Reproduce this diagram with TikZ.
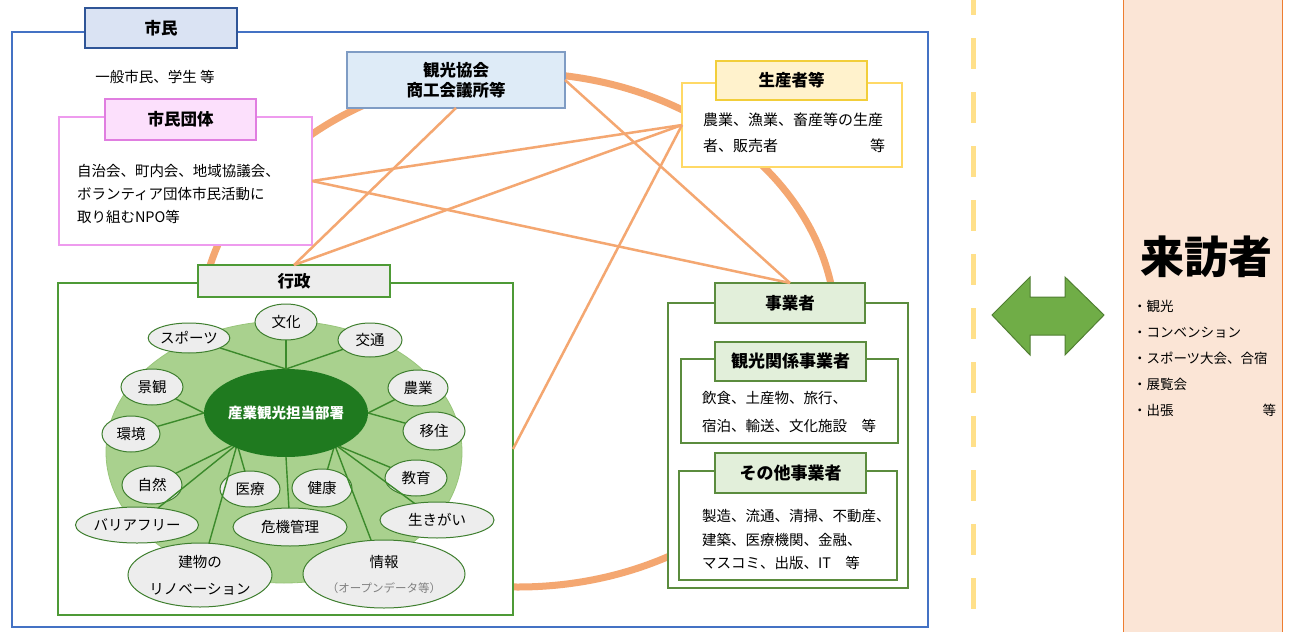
\documentclass[tikz,border=0pt]{standalone}
\usepackage{fontspec}
\setmainfont{Noto Sans CJK JP}
\usetikzlibrary{shapes.geometric}
\definecolor{mblue}{HTML}{4472C4}
\definecolor{tblueF}{HTML}{DAE3F3}
\definecolor{tblueD}{HTML}{2F5597}
\definecolor{kF}{HTML}{DEEBF7}
\definecolor{kD}{HTML}{7F9CC4}
\definecolor{pinkD}{HTML}{EE9BEE}
\definecolor{pinkF}{HTML}{FCE0FC}
\definecolor{pinkT}{HTML}{E07EE0}
\definecolor{yelD}{HTML}{FFD966}
\definecolor{yelF}{HTML}{FFF2CC}
\definecolor{yelT}{HTML}{F2CE3A}
\definecolor{gD}{HTML}{4E9A36}
\definecolor{grayF}{HTML}{EDEDED}
\definecolor{lgreen}{HTML}{A9D18E}
\definecolor{lgreenD}{HTML}{98C57A}
\definecolor{dgreen}{HTML}{1F7A1F}
\definecolor{smD}{HTML}{3F7F2F}
\definecolor{spokeC}{HTML}{3B8A2B}
\definecolor{oliveD}{HTML}{5B8C3E}
\definecolor{oliveF}{HTML}{E2EFDA}
\definecolor{orng}{HTML}{F4A771}
\definecolor{visF}{HTML}{FBE5D6}
\definecolor{visD}{HTML}{ED7D31}
\definecolor{dashC}{HTML}{FFE08A}
\definecolor{arF}{HTML}{70AD47}
\definecolor{arD}{HTML}{507E32}
\newcommand{\bodyf}{\fontsize{14.5}{17}\selectfont}
\newcommand{\titlef}{\fontsize{16.5}{20}\selectfont\bfseries}
\begin{document}
\begin{tikzpicture}[x=1pt,y=-1pt,
  every node/.style={inner sep=0pt, outer sep=0pt},
  sm/.style={ellipse, draw=smD, fill=grayF, line width=1pt, font=\bodyf},
  spoke/.style={spokeC, line width=1.4pt},
  thinor/.style={orng, line width=2.5pt},
  body/.style={font=\bodyf}]
\clip (0,0) rectangle (1294,632);
\fill[white] (0,0) rectangle (1294,632);

% big orange ring
\draw[orng, line width=7pt] (518,330) ellipse [x radius=318pt, y radius=257pt];

% main blue frame
\node[draw=mblue, line width=2.5pt, minimum width=916pt, minimum height=595pt] (main) at (470,329.5) {};

% visitors
\node[fill=visF, draw=visD, line width=1pt, minimum width=159pt, minimum height=660pt] (visitor) at (1202.5,316) {};
\node[font=\fontsize{44}{48}\selectfont\bfseries] (raiho) at (1206,257) {来訪者};
\node[anchor=west, align=left, font=\fontsize{13.5}{26}\selectfont] (vlist) at (1133,358) {・観光\\・コンベンション\\・スポーツ大会、合宿\\・展覧会\\・出張};
\node[anchor=east, font=\fontsize{13.5}{26}\selectfont] (vto) at (1276,410) {等};

% dashed divider
\draw[dashC, line width=5pt, dash pattern=on 31pt off 23pt] (973,-16) -- (973,660);

% double arrow
\filldraw[fill=arF, draw=arD, line width=1pt] (992,315) -- (1030,277) -- (1030,297) -- (1065,297) -- (1065,277) -- (1104,315) -- (1065,355) -- (1065,335) -- (1030,335) -- (1030,355) -- cycle;

% citizens
\node[draw=tblueD, fill=tblueF, line width=1.8pt, minimum width=152pt, minimum height=40pt, font=\titlef] (shiminT) at (161,28) {市民};
\node[body] (ippan) at (155,77) {一般市民、学生 等};

\node[draw=pinkD, fill=white, line width=1.3pt, minimum width=253pt, minimum height=128pt] (dantai) at (185.5,181) {};
\node[draw=pinkT, fill=pinkF, line width=1.3pt, minimum width=151pt, minimum height=41pt, font=\titlef] (dantaiT) at (180.5,119.5) {市民団体};
\node[anchor=west, align=left, font=\fontsize{14.5}{23}\selectfont] (dantaiB) at (77,194) {自治会、町内会、地域協議会、\\ボランティア団体市民活動に\\取り組むNPO等};

% tourism association
\node[draw=kD, fill=kF, line width=1.2pt, minimum width=218pt, minimum height=56pt, align=center, font=\fontsize{16.5}{20}\selectfont\bfseries] (kanko) at (456,80) {観光協会\\商工会議所等};

% producers
\node[draw=yelD, fill=white, line width=1.5pt, minimum width=220pt, minimum height=84pt] (seisan) at (792,125) {};
\node[draw=yelT, fill=yelF, line width=1.5pt, minimum width=151pt, minimum height=39pt, font=\titlef] (seisanT) at (791.5,80.5) {生産者等};
\node[anchor=west, font=\fontsize{15}{17}\selectfont] (seisanB1) at (703,120) {農業、漁業、畜産等の生産};
\node[anchor=west, font=\fontsize{15}{17}\selectfont] (seisanB2) at (703,146) {者、販売者};
\node[anchor=east, font=\fontsize{15}{17}\selectfont] (seisanB3) at (885,146) {等};

% administration
\node[draw=gD, fill=white, line width=1.5pt, minimum width=455pt, minimum height=332pt] (gyosei) at (285.5,449) {};
\node[draw=gD, fill=grayF, line width=1.5pt, minimum width=192pt, minimum height=32pt, font=\titlef] (gyoseiT) at (294,281) {行政};

\node[ellipse, fill=lgreen, draw=lgreenD, line width=0.8pt, minimum width=356pt, minimum height=262pt] (gcircle) at (284,452) {};
\node[ellipse, fill=dgreen, minimum width=158pt, minimum height=88pt, text=white, font=\fontsize{14.5}{17}\selectfont\bfseries] (C) at (286,413) {産業観光担当部署};

\node[sm, minimum width=62pt, minimum height=36pt] (bunka) at (286,322) {文化};
\node[sm, minimum width=80pt, minimum height=30pt] (sports) at (189,338) {スポーツ};
\node[sm, minimum width=64pt, minimum height=34pt] (kotsu) at (370,340) {交通};
\node[sm, minimum width=62pt, minimum height=36pt] (keikan) at (152,387) {景観};
\node[sm, minimum width=58pt, minimum height=36pt] (kankyo) at (131,434) {環境};
\node[sm, minimum width=60pt, minimum height=36pt] (nogyo) at (418,388) {農業};
\node[sm, minimum width=62pt, minimum height=38pt] (iju) at (434,431) {移住};
\node[sm, minimum width=62pt, minimum height=36pt] (kyoiku) at (416,478) {教育};
\node[sm, minimum width=60pt, minimum height=38pt] (shizen) at (152,485) {自然};
\node[sm, minimum width=60pt, minimum height=36pt] (iryo) at (250,489) {医療};
\node[sm, minimum width=60pt, minimum height=38pt] (kenko) at (322,488) {健康};
\node[sm, minimum width=120pt, minimum height=36pt] (barrier) at (137,525) {バリアフリー};
\node[sm, minimum width=114pt, minimum height=38pt] (kiki) at (290,527) {危機管理};
\node[sm, minimum width=114pt, minimum height=36pt] (ikigai) at (437,520) {生きがい};
\node[sm, minimum width=144pt, minimum height=64pt, align=center, font=\fontsize{14.5}{27}\selectfont] (tatemono) at (200,575) {建物の\\リノベーション};
\node[sm, minimum width=162pt, minimum height=68pt, align=center, font=\fontsize{14.5}{25}\selectfont] (joho) at (384,574) {情報\\{\color{gray}\fontsize{11.5}{14}\selectfont（オープンデータ等）}};

\draw[spoke] (C.north) -- (bunka);
\draw[spoke] (C.north) -- (sports);
\draw[spoke] (C.north) -- (kotsu);
\draw[spoke] (C.west) -- (keikan);
\draw[spoke] (C.west) -- (kankyo);
\draw[spoke] (C.east) -- (nogyo);
\draw[spoke] (C.east) -- (iju);
\draw[spoke] (C.211) -- (shizen);
\draw[spoke] (C.217) -- (iryo);
\draw[spoke] (C.213) -- (barrier);
\draw[spoke] (C.215) -- (tatemono);
\draw[spoke] (C.south) -- (kiki);
\draw[spoke] (C.-37) -- (kenko);
\draw[spoke] (C.-32) -- (kyoiku);
\draw[spoke] (C.-33) -- (ikigai);
\draw[spoke] (C.-35) -- (joho);

% businesses
\node[draw=oliveD, fill=white, line width=1.3pt, minimum width=240pt, minimum height=285pt] (jigyo) at (788,445.5) {};
\node[draw=oliveD, fill=oliveF, line width=1.5pt, minimum width=150pt, minimum height=40pt, font=\titlef] (jigyoT) at (790,303) {事業者};
\node[draw=oliveD, fill=white, line width=1.3pt, minimum width=217pt, minimum height=84pt] (kankei) at (789.5,401) {};
\node[draw=oliveD, fill=oliveF, line width=1.5pt, minimum width=151pt, minimum height=39pt, font=\fontsize{17}{20}\selectfont\bfseries] (kankeiT) at (790.5,361.5) {観光関係事業者};
\node[anchor=west, align=left, font=\fontsize{14.5}{28}\selectfont] (kankeiB) at (702,412) {飲食、土産物、旅行、\\宿泊、輸送、文化施設　等};
\node[draw=oliveD, fill=white, line width=1.3pt, minimum width=218pt, minimum height=109pt] (sonota) at (788,525.5) {};
\node[draw=oliveD, fill=oliveF, line width=1.5pt, minimum width=151pt, minimum height=40pt, font=\fontsize{17}{20}\selectfont\bfseries] (sonotaT) at (790.5,473) {その他事業者};
\node[anchor=west, align=left, font=\fontsize{14.5}{23.5}\selectfont] (sonotaB) at (702,539.5) {製造、流通、清掃、不動産、\\建築、医療機関、金融、\\マスコミ、出版、IT　等};

% thin orange links
\draw[thinor] (kanko.south) -- (gyoseiT.north);
\draw[thinor] (seisan.west) -- (dantai.east);
\draw[thinor] (seisan.west) -- (gyoseiT.north);
\draw[thinor] (dantai.east) -- (jigyoT.north);
\draw[thinor] (kanko.east) -- (jigyoT.north);
\draw[thinor] (seisan.west) -- (gyosei.east);
\end{tikzpicture}
\end{document}
